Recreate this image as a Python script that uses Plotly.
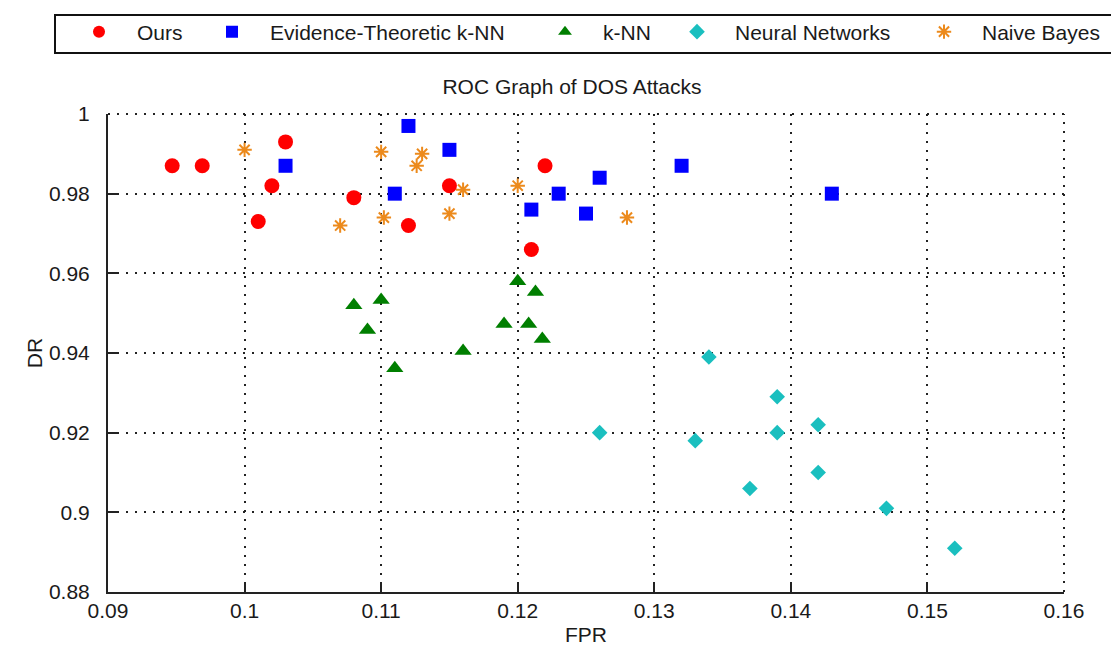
import plotly.graph_objects as go

ours_x = [0.0947, 0.0969, 0.101, 0.102, 0.103, 0.108, 0.112, 0.115, 0.122, 0.121]
ours_y = [0.987, 0.987, 0.973, 0.982, 0.993, 0.979, 0.972, 0.982, 0.987, 0.966]

etknn_x = [0.103, 0.112, 0.115, 0.111, 0.121, 0.123, 0.125, 0.126, 0.132, 0.143]
etknn_y = [0.987, 0.997, 0.991, 0.980, 0.976, 0.980, 0.975, 0.984, 0.987, 0.980]

knn_x = [0.108, 0.110, 0.109, 0.111, 0.116, 0.120, 0.1213, 0.119, 0.1208, 0.1218]
knn_y = [0.952, 0.9533, 0.9458, 0.9362, 0.9405, 0.958, 0.9553, 0.9473, 0.9473, 0.9435]

nn_x = [0.126, 0.134, 0.133, 0.137, 0.139, 0.139, 0.142, 0.142, 0.147, 0.152]
nn_y = [0.920, 0.939, 0.918, 0.906, 0.929, 0.920, 0.922, 0.910, 0.901, 0.891]

nb_x = [0.100, 0.110, 0.113, 0.1126, 0.116, 0.107, 0.1102, 0.115, 0.120, 0.128]
nb_y = [0.991, 0.9905, 0.990, 0.987, 0.981, 0.972, 0.974, 0.975, 0.982, 0.974]

x_ticks = [0.09, 0.1, 0.11, 0.12, 0.13, 0.14, 0.15, 0.16]
x_labels = ["0.09", "0.1", "0.11", "0.12", "0.13", "0.14", "0.15", "0.16"]
y_ticks = [0.88, 0.9, 0.92, 0.94, 0.96, 0.98, 1.0]
y_labels = ["0.88", "0.9", "0.92", "0.94", "0.96", "0.98", "1"]

FONT = "Liberation Sans, Arial, sans-serif"
TXT = "#1a1a1a"
GRID = "#222"
DOTS = "2px,7px"
W, H = 1119, 650

fig = go.Figure()
fig.add_trace(go.Scatter(x=ours_x, y=ours_y, mode="markers", name="Ours", legend="legend",
                         marker=dict(symbol="circle", size=15, color="#ff0000", line=dict(width=0))))
fig.add_trace(go.Scatter(x=etknn_x, y=etknn_y, mode="markers", name="Evidence-Theoretic k-NN",
                         legend="legend2",
                         marker=dict(symbol="square", size=14, color="#0000ff", line=dict(width=0))))
fig.add_trace(go.Scatter(x=knn_x, y=knn_y, mode="markers", name="k-NN", legend="legend3",
                         marker=dict(symbol="triangle-up", size=15, color="#007f00", line=dict(width=0))))
fig.add_trace(go.Scatter(x=nn_x, y=nn_y, mode="markers", name="Neural Networks", legend="legend4",
                         marker=dict(symbol="diamond", size=12, color="#1abfbf", line=dict(width=0))))
fig.add_trace(go.Scatter(x=nb_x, y=nb_y, mode="markers", name="Naive Bayes", legend="legend5",
                         marker=dict(symbol="asterisk-open", size=12, color="#ec8a1c",
                                     line=dict(width=2, color="#ec8a1c"))))

axis_common = dict(
    showline=True, linecolor="#222", linewidth=2,
    ticks="inside", ticklen=9, tickwidth=2, tickcolor="#222",
    showgrid=True, gridcolor=GRID, gridwidth=2, griddash=DOTS,
    zeroline=False, mirror=False, layer="above traces",
    tickfont=dict(family=FONT, size=21, color=TXT),
    title_font=dict(family=FONT, size=21, color=TXT),
)

fig.update_xaxes(range=[0.09, 0.16], tickvals=x_ticks, ticktext=x_labels,
                 title_text="FPR", title_standoff=6, ticklabelstandoff=-1, **axis_common)
fig.update_yaxes(range=[0.88, 1.0], tickvals=y_ticks, ticktext=y_labels,
                 title_text="DR", title_standoff=1, ticklabelstandoff=12, **axis_common)

# dotted box edges at top and right (as in the reference)
fig.add_shape(type="line", xref="paper", yref="paper", x0=0, x1=1, y0=1, y1=1,
              line=dict(color=GRID, width=2, dash=DOTS), layer="below")
fig.add_shape(type="line", xref="paper", yref="paper", x0=1, x1=1, y0=0, y1=1,
              line=dict(color=GRID, width=2, dash=DOTS), layer="below")

# legend frame (plot area spans x 100..1056 px, y 106..584 px)
PL, PR, PT, PB = 100, 1056, 106, 584
def px_x(p):
    return (p - PL) / (PR - PL)
def px_y(p):
    return (PB - p) / (PB - PT)

fig.add_shape(type="rect", xref="paper", yref="paper",
              x0=px_x(47), x1=px_x(1113), y0=px_y(45), y1=px_y(7),
              line=dict(color="#111", width=2), fillcolor="rgba(0,0,0,0)")

legend_common = dict(orientation="h", xanchor="left", yanchor="middle",
                     xref="container", yref="container", bgcolor="rgba(0,0,0,0)",
                     borderwidth=0, font=dict(family=FONT, size=21, color=TXT),
                     itemwidth=66, itemsizing="constant")
marker_px = [92, 225, 558, 690, 937]
legends = {}
for i, mx in enumerate(marker_px):
    key = "legend" if i == 0 else f"legend{i + 1}"
    legends[key] = dict(x=(mx - 39) / W, y=1 - 24 / H, **legend_common)

fig.update_layout(
    width=W, height=H,
    margin=dict(l=PL, r=W - PR, t=PT, b=H - PB, autoexpand=False),
    paper_bgcolor="white", plot_bgcolor="white",
    font=dict(family=FONT, size=21, color=TXT),
    title=dict(text="ROC Graph of DOS Attacks", x=564 / W, xanchor="center",
               y=1 - 79 / H, yanchor="middle", xref="container", yref="container",
               font=dict(family=FONT, size=21, color=TXT)),
    showlegend=True,
    **legends,
)

fig.write_html("out.html")
